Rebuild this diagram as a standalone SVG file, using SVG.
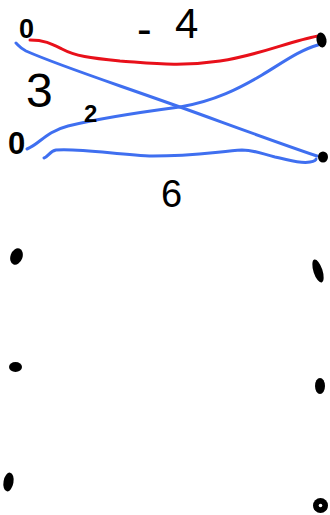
<svg xmlns="http://www.w3.org/2000/svg" width="330" height="515" viewBox="0 0 330 515">
<style>
.lbl{font-family:"Liberation Sans","DejaVu Sans",sans-serif;fill:#000;}
.edge{fill:none;stroke-width:3;stroke-linecap:round;stroke-linejoin:round;}
.red{stroke:#e8101a;}
.blue{stroke:#3f6ff0;}
.dot{fill:#000;}
</style>
<rect width="330" height="515" fill="#fff"/>
<g id="connectors">
<path class="edge red" d="M30,40 C45,40 52,44 62,49 C75,56 90,58 120,61 C150,63 180,67 220,61 C260,55 290,41 318,36"/>
<path class="edge blue" d="M16,43 C19,46 20,48 26,51 C60,66 110,82 180,107 C230,125 270,140 317,156"/>
<path class="edge blue" d="M27,149 C40,144 45,132 68,126 C110,116 150,111 180,107 C215,101 240,88 262,75 C285,61 300,50 318,45"/>
<path class="edge blue" d="M44,158 C48,157 50,151 56,150 C80,148 120,155 153,156 C190,156 215,152 242,150 C255,150 262,154 275,157 C290,160 300,164 310,162 C315,161 316,160 316,159"/>
</g>
<g id="n-top-left"><text class="lbl" x="19" y="38" font-size="27" font-weight="bold">0</text></g>
<g id="n-mid-left"><text class="lbl" x="8" y="154" font-size="31" font-weight="bold">0</text></g>
<g id="n-top-right"><ellipse class="dot" cx="321.5" cy="40" rx="5" ry="7.5" transform="rotate(-10 321.5 40)"/></g>
<g id="n-mid-right"><ellipse class="dot" cx="323" cy="157" rx="5" ry="5.5"/></g>
<g id="n-l3"><ellipse class="dot" cx="16.5" cy="256.5" rx="6" ry="8.5" transform="rotate(20 16.5 256.5)"/></g>
<g id="n-r3"><ellipse class="dot" cx="318" cy="271" rx="4.5" ry="12" transform="rotate(-18 318 271)"/></g>
<g id="n-l4"><ellipse class="dot" cx="15.5" cy="367" rx="6.5" ry="5"/></g>
<g id="n-r4"><ellipse class="dot" cx="320" cy="386" rx="5" ry="8"/></g>
<g id="n-l5"><ellipse class="dot" cx="8.5" cy="482" rx="5" ry="9.5" transform="rotate(10 8.5 482)"/></g>
<g id="n-r5"><circle class="dot" cx="320.5" cy="505.5" r="7.5"/><circle cx="320.5" cy="505.5" r="1.8" fill="#fff"/></g>
<g id="labels">
<text class="lbl"><tspan x="137" y="44" font-size="44">-</tspan><tspan x="175" y="38" font-size="42">4</tspan></text>
<text class="lbl" x="26" y="107" font-size="48">3</text>
<text class="lbl" x="84" y="122" font-size="24" font-weight="bold">2</text>
<text class="lbl" x="161" y="207" font-size="38">6</text>
</g>
</svg>
